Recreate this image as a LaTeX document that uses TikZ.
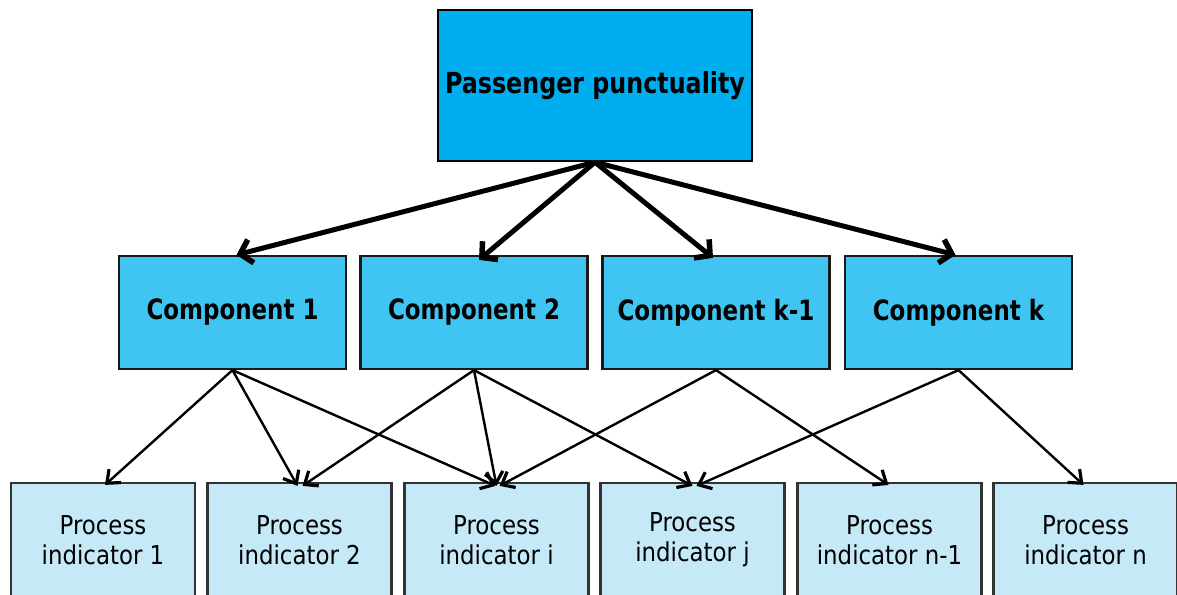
\documentclass[tikz,border=0pt]{standalone}
\usepackage{fontspec}
\setmainfont{DejaVu Sans}[FakeStretch=0.88]
\newfontfamily\headfont{DejaVu Sans}[FakeStretch=0.82]
\usetikzlibrary{arrows.meta}
\definecolor{topblue}{RGB}{0,174,239}
\definecolor{compblue}{RGB}{64,196,242}
\definecolor{indblue}{RGB}{198,233,248}
\tikzset{
  topbox/.style={draw=black, fill=topblue, line width=2.4pt, minimum width=314pt,
    minimum height=151pt, inner sep=0pt,
    font=\headfont\bfseries\fontsize{29}{33}\selectfont},
  compbox/.style={draw=black!90, fill=compblue, line width=2.2pt, minimum width=227pt,
    minimum height=113pt, inner sep=0pt,
    font=\headfont\bfseries\fontsize{28}{32}\selectfont},
  indbox/.style={draw=black!80, fill=indblue, line width=2.2pt, minimum width=184pt,
    minimum height=114pt, inner sep=0pt, align=center,
    font=\fontsize{26}{30}\selectfont},
  mainarrow/.style={line width=5pt, -{Straight Barb[length=11pt,width=24pt,line width=5.5pt]}},
  subarrow/.style={line width=2.4pt, -{Straight Barb[length=11pt,width=18pt,line width=3.2pt]}}
}
\begin{document}
\begin{tikzpicture}[x=1pt,y=-1pt]
\useasboundingbox (0,0) rectangle (1177,594);
\fill[white] (0,0) rectangle (1177,594);

% top level
\node[topbox] (top) at (595,85.5) {Passenger punctuality};

% components
\node[compbox] (c1) at (232.5,312.5) {Component 1};
\node[compbox] (c2) at (474,312.5) {Component 2};
\node[compbox] (ck1) at (716,312.5) {Component k-1};
\node[compbox] (ck) at (958.5,312.5) {Component k};

% process indicators
\node[indbox] (p1) at (103,540) {Process\\indicator 1};
\node[indbox] (p2) at (299.5,540) {Process\\indicator 2};
\node[indbox] (pi) at (496.5,540) {Process\\indicator i};
\node[indbox] (pj) at (692.5,540) {Process\\indicator j};
\node[indbox] (pn1) at (889.5,540) {Process\\indicator n-1};
\node[indbox] (pn) at (1085.5,540) {Process\\indicator n};

% top level to components
\draw[mainarrow] (top.south) -- ([xshift=4pt]c1.north);
\draw[mainarrow] (top.south) -- ([xshift=5pt,yshift=-5pt]c2.north);
\draw[mainarrow] (top.south) -- ([xshift=-3pt,yshift=-3pt]ck1.north);
\draw[mainarrow] (top.south) -- ([xshift=-3pt]ck.north);

% components to process indicators
\draw[subarrow] (c1.south) -- ([xshift=2pt,yshift=-3pt]p1.north);
\draw[subarrow] (c1.south) -- ([xshift=-2pt,yshift=-4pt]p2.north);
\draw[subarrow] (c1.south) -- ([xshift=-1pt,yshift=-4pt]pi.north);
\draw[subarrow] (c2.south) -- ([xshift=3pt,yshift=-4pt]p2.north);
\draw[subarrow] (c2.south) -- ([xshift=0pt,yshift=-4pt]pi.north);
\draw[subarrow] (c2.south) -- ([xshift=0pt,yshift=-4pt]pj.north);
\draw[subarrow] (ck1.south) -- ([xshift=3pt,yshift=-4pt]pi.north);
\draw[subarrow] (ck1.south) -- ([xshift=-1pt,yshift=-3pt]pn1.north);
\draw[subarrow] (ck.south) -- ([xshift=4pt,yshift=-4pt]pj.north);
\draw[subarrow] (ck.south) -- ([xshift=-2pt,yshift=-3pt]pn.north);
\end{tikzpicture}
\end{document}
